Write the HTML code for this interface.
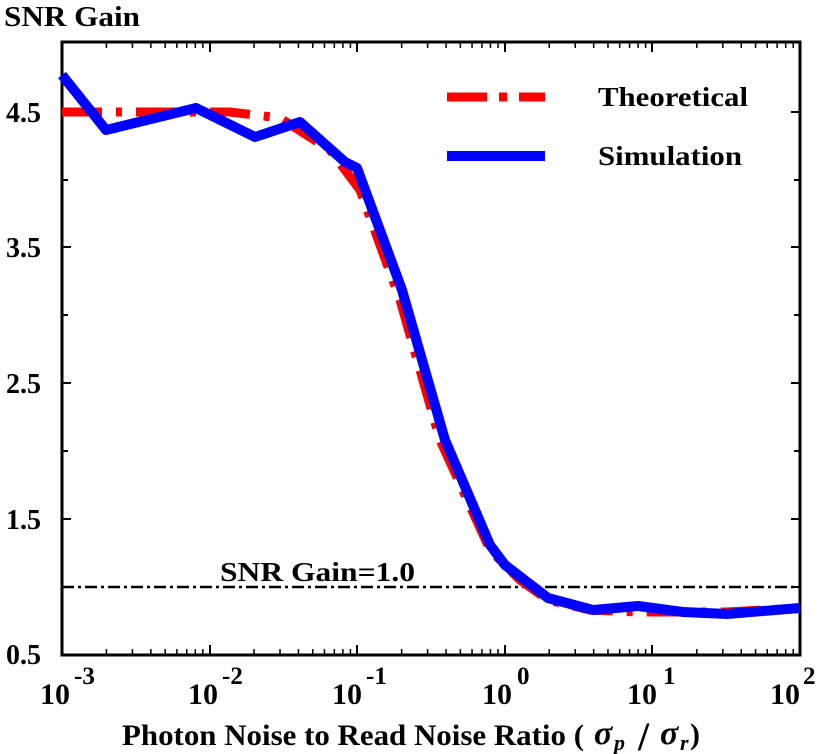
<!DOCTYPE html>
<html><head><style>body{margin:0;background:#fff}svg{display:block}text{font-family:"Liberation Serif",serif;font-weight:bold;fill:#000}</style></head>
<body>
<svg width="817" height="754" viewBox="0 0 817 754">
<rect x="62" y="42" width="738" height="613" fill="none" stroke="#000" stroke-width="3"/>
<g stroke="#000" stroke-width="2">
<path d="M62 112h9M62 247h9M62 383h9M62 519h9M800 112h-9M800 247h-9M800 383h-9M800 519h-9"/>
<path d="M62 180h6M62 315h6M62 451h6M62 587h6M800 180h-6M800 315h-6M800 451h-6M800 587h-6"/>
<path d="M210 655v-10M357 655v-10M505 655v-10M652 655v-10M210 42v10M357 42v10M505 42v10M652 42v10"/>
</g>
<g id="minor" stroke="#000" stroke-width="1.5"></g>
<line x1="62" y1="587" x2="800" y2="587" stroke="#000" stroke-width="2.5" stroke-dasharray="12,4,3,4"/>
<polyline fill="none" stroke="#f00" stroke-width="9" stroke-dasharray="40,14,6,14" points="62,112 230,112 280,118 330,150 360,190 400,300 440,440 490,550 520,580 548,600 590,610 640,612 727,612 800,608"/>
<polyline fill="none" stroke="#00f" stroke-width="10" stroke-linejoin="round" points="62,75 106,130 196,108 255,137 300,122 345,162 357,168 402,290 445,440 490,545 505,565 548,598 593,610 638,606 683,612 727,614 800,608"/>
<line x1="447" y1="97" x2="545" y2="97" stroke="#f00" stroke-width="9" stroke-dasharray="40,12,8,12"/>
<line x1="447" y1="156" x2="545" y2="156" stroke="#00f" stroke-width="10"/>
<text x="598" y="106" font-size="27" textLength="150" lengthAdjust="spacingAndGlyphs">Theoretical</text>
<text x="598" y="165" font-size="27" textLength="144" lengthAdjust="spacingAndGlyphs">Simulation</text>
<text x="4" y="26" font-size="28" textLength="136" lengthAdjust="spacingAndGlyphs">SNR Gain</text>
<text x="220" y="581" font-size="27" textLength="195" lengthAdjust="spacingAndGlyphs">SNR Gain=1.0</text>
<g font-size="28" text-anchor="end">
<text x="41" y="122">4.5</text><text x="41" y="257">3.5</text><text x="41" y="393">2.5</text><text x="41" y="529">1.5</text><text x="41" y="664">0.5</text>
</g>
<g font-size="30">
<text x="40" y="704">10</text><text x="74" y="684" font-size="25">-3</text>
<text x="188" y="704">10</text><text x="222" y="684" font-size="25">-2</text>
<text x="332" y="704">10</text><text x="366" y="684" font-size="25">-1</text>
<text x="482" y="704">10</text><text x="517" y="684" font-size="25">0</text>
<text x="627" y="704">10</text><text x="663" y="684" font-size="25">1</text>
<text x="770" y="704">10</text><text x="803" y="684" font-size="25">2</text>
</g>
<text x="122" y="745" font-size="30" textLength="462" lengthAdjust="spacingAndGlyphs">Photon Noise to Read Noise Ratio (</text>
<text x="594" y="744" font-size="34" font-style="italic" font-weight="normal">σ</text><text x="614" y="750" font-size="22" font-style="italic" font-weight="normal">p</text>
<text x="638" y="750" font-size="40" font-weight="normal">/</text>
<text x="660" y="744" font-size="34" font-style="italic" font-weight="normal">σ</text><text x="680" y="750" font-size="22" font-style="italic" font-weight="normal">r</text>
<text x="690" y="744" font-size="30" font-weight="normal">)</text>
</svg>
<script>
var g=document.getElementById('minor'),s='';
for(var d=0;d<5;d++){for(var k=2;k<10;k++){var x=62+147.6*(d+Math.log10(k));s+='M'+x+' 655v-6M'+x+' 42v6';}}
var p=document.createElementNS('http://www.w3.org/2000/svg','path');p.setAttribute('d',s);g.appendChild(p);
</script>
</body></html>
